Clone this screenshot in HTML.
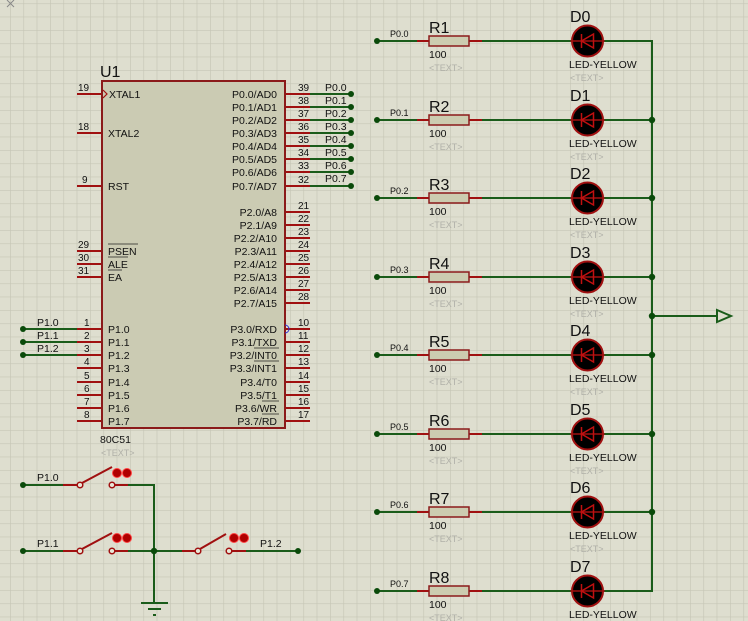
<!DOCTYPE html>
<html><head><meta charset="utf-8"><style>
html,body{margin:0;padding:0;background:#dedecf}
svg{display:block}
text{font-family:"Liberation Sans",sans-serif;fill:#111}
.s{font-size:10.5px}
.t{font-size:9px}
.t text, text.t{fill:#b0b0a8}
.n{font-size:10px}
.b{font-size:16px}
.pl{font-size:9px}
</style></head><body>
<svg width="748" height="621" viewBox="0 0 748 621" xmlns="http://www.w3.org/2000/svg">
<defs>
<pattern id="g" x="10" y="3.33" width="13.333" height="13.333" patternUnits="userSpaceOnUse">
<path d="M0 0H13.333M0 0V13.333" stroke="#c6c6b6" stroke-width="1.3" fill="none"/>
</pattern>
<g id="led">
<line x1="-17" y1="0" x2="17" y2="0" stroke="#a01010" stroke-width="2"/>
<circle cx="0" cy="0" r="15.5" fill="#000" stroke="#a01010" stroke-width="2"/>
<line x1="-17" y1="0" x2="17" y2="0" stroke="#a01010" stroke-width="1.5"/>
<line x1="-6" y1="-7" x2="-6" y2="7" stroke="#c01010" stroke-width="1.5"/>
<polygon points="-6,0 6,-7 6,7" fill="none" stroke="#c01010" stroke-width="1.5"/>
</g>
<g id="res">
<line x1="-12" y1="0" x2="53" y2="0" stroke="#a01010" stroke-width="2"/>
<rect x="0" y="-5" width="40" height="10" fill="#ccccb0" stroke="#8b1a1a" stroke-width="1.5"/>
</g>
<g id="btn">
<circle cx="0" cy="0" r="4.5" fill="#b00000" stroke="#ff4040" stroke-width="1"/>
<circle cx="10" cy="0" r="4.5" fill="#b00000" stroke="#ff4040" stroke-width="1"/>
</g>
</defs>
<rect width="748" height="621" fill="#dedecf"/>
<rect width="748" height="621" fill="url(#g)"/>
<path d="M7 0L14 7M14 0L7 7" stroke="#888" stroke-width="1"/>

<g stroke="#a01010" stroke-width="2">
<line x1="77" y1="94" x2="102" y2="94"/><line x1="77" y1="133" x2="102" y2="133"/><line x1="77" y1="186" x2="102" y2="186"/>
<line x1="77" y1="251" x2="102" y2="251"/><line x1="77" y1="264" x2="102" y2="264"/><line x1="77" y1="277" x2="102" y2="277"/>
<line x1="77" y1="329" x2="102" y2="329"/><line x1="77" y1="342" x2="102" y2="342"/><line x1="77" y1="355" x2="102" y2="355"/><line x1="77" y1="368" x2="102" y2="368"/>
<line x1="77" y1="382" x2="102" y2="382"/><line x1="77" y1="395" x2="102" y2="395"/><line x1="77" y1="408" x2="102" y2="408"/><line x1="77" y1="421" x2="102" y2="421"/>
<line x1="285" y1="94" x2="310" y2="94"/><line x1="285" y1="107" x2="310" y2="107"/><line x1="285" y1="120" x2="310" y2="120"/><line x1="285" y1="133" x2="310" y2="133"/>
<line x1="285" y1="146" x2="310" y2="146"/><line x1="285" y1="159" x2="310" y2="159"/><line x1="285" y1="172" x2="310" y2="172"/><line x1="285" y1="186" x2="310" y2="186"/>
<line x1="285" y1="212" x2="310" y2="212"/><line x1="285" y1="225" x2="310" y2="225"/><line x1="285" y1="238" x2="310" y2="238"/><line x1="285" y1="251" x2="310" y2="251"/>
<line x1="285" y1="264" x2="310" y2="264"/><line x1="285" y1="277" x2="310" y2="277"/><line x1="285" y1="290" x2="310" y2="290"/><line x1="285" y1="303" x2="310" y2="303"/>
<line x1="285" y1="329" x2="310" y2="329"/><line x1="285" y1="342" x2="310" y2="342"/><line x1="285" y1="355" x2="310" y2="355"/><line x1="285" y1="368" x2="310" y2="368"/>
<line x1="285" y1="382" x2="310" y2="382"/><line x1="285" y1="395" x2="310" y2="395"/><line x1="285" y1="408" x2="310" y2="408"/><line x1="285" y1="421" x2="310" y2="421"/>
</g>
<rect x="102" y="81" width="183" height="347" fill="#cbcbb3" stroke="#8b1a1a" stroke-width="2"/>
<text x="100" y="77" class="b">U1</text>
<text x="100" y="443" class="s">80C51</text>
<text x="101" y="456" class="t">&lt;TEXT&gt;</text>
<path d="M103 90L107 94L103 98" fill="none" stroke="#a01010" stroke-width="1.2"/>
<path d="M285 325A4 4 0 0 1 285 333" fill="none" stroke="#3030d0" stroke-width="1"/>
<g class="s">
<text x="109" y="98">XTAL1</text><text x="108" y="137">XTAL2</text><text x="108" y="190">RST</text>
<text x="108" y="255">PSEN</text><text x="108" y="268">ALE</text><text x="108" y="281">EA</text>
<text x="108" y="333">P1.0</text><text x="108" y="346">P1.1</text><text x="108" y="359">P1.2</text><text x="108" y="372">P1.3</text>
<text x="108" y="386">P1.4</text><text x="108" y="399">P1.5</text><text x="108" y="412">P1.6</text><text x="108" y="425">P1.7</text>
</g>
<g stroke="#222" stroke-width="0.8"><line x1="108" y1="244" x2="138" y2="244"/><line x1="108" y1="257" x2="128" y2="257"/><line x1="108" y1="270" x2="122" y2="270"/>
<line x1="254" y1="348" x2="279" y2="348"/><line x1="254" y1="361" x2="279" y2="361"/><line x1="262" y1="401" x2="279" y2="401"/><line x1="262" y1="414" x2="279" y2="414"/></g>
<g class="s" text-anchor="end">
<text x="277" y="98">P0.0/AD0</text><text x="277" y="111">P0.1/AD1</text><text x="277" y="124">P0.2/AD2</text><text x="277" y="137">P0.3/AD3</text>
<text x="277" y="150">P0.4/AD4</text><text x="277" y="163">P0.5/AD5</text><text x="277" y="176">P0.6/AD6</text><text x="277" y="190">P0.7/AD7</text>
<text x="277" y="216">P2.0/A8</text><text x="277" y="229">P2.1/A9</text><text x="277" y="242">P2.2/A10</text><text x="277" y="255">P2.3/A11</text>
<text x="277" y="268">P2.4/A12</text><text x="277" y="281">P2.5/A13</text><text x="277" y="294">P2.6/A14</text><text x="277" y="307">P2.7/A15</text>
<text x="277" y="333">P3.0/RXD</text><text x="277" y="346">P3.1/TXD</text><text x="277" y="359">P3.2/INT0</text><text x="277" y="372">P3.3/INT1</text>
<text x="277" y="386">P3.4/T0</text><text x="277" y="399">P3.5/T1</text><text x="277" y="412">P3.6/WR</text><text x="277" y="425">P3.7/RD</text>
</g>
<g class="n">
<text x="78" y="91">19</text><text x="78" y="130">18</text><text x="82" y="183">9</text><text x="78" y="248">29</text><text x="78" y="261">30</text><text x="78" y="274">31</text>
<text x="84" y="326">1</text><text x="84" y="339">2</text><text x="84" y="352">3</text><text x="84" y="365">4</text><text x="84" y="379">5</text><text x="84" y="392">6</text><text x="84" y="405">7</text><text x="84" y="418">8</text>
<text x="298" y="91">39</text><text x="298" y="104">38</text><text x="298" y="117">37</text><text x="298" y="130">36</text><text x="298" y="143">35</text><text x="298" y="156">34</text><text x="298" y="169">33</text><text x="298" y="183">32</text>
<text x="298" y="209">21</text><text x="298" y="222">22</text><text x="298" y="235">23</text><text x="298" y="248">24</text><text x="298" y="261">25</text><text x="298" y="274">26</text><text x="298" y="287">27</text><text x="298" y="300">28</text>
<text x="298" y="326">10</text><text x="298" y="339">11</text><text x="298" y="352">12</text><text x="298" y="365">13</text><text x="298" y="379">14</text><text x="298" y="392">15</text><text x="298" y="405">16</text><text x="298" y="418">17</text>
</g>
<g stroke="#1a5c1a" stroke-width="2">
<line x1="310" y1="94" x2="351" y2="94"/><line x1="310" y1="107" x2="351" y2="107"/><line x1="310" y1="120" x2="351" y2="120"/><line x1="310" y1="133" x2="351" y2="133"/>
<line x1="310" y1="146" x2="351" y2="146"/><line x1="310" y1="159" x2="351" y2="159"/><line x1="310" y1="172" x2="351" y2="172"/><line x1="310" y1="186" x2="351" y2="186"/>
<line x1="23" y1="329" x2="77" y2="329"/><line x1="23" y1="342" x2="77" y2="342"/><line x1="23" y1="355" x2="77" y2="355"/>
</g>
<g fill="#0a4a0a">
<circle cx="351" cy="94" r="3"/><circle cx="351" cy="107" r="3"/><circle cx="351" cy="120" r="3"/><circle cx="351" cy="133" r="3"/>
<circle cx="351" cy="146" r="3"/><circle cx="351" cy="159" r="3"/><circle cx="351" cy="172" r="3"/><circle cx="351" cy="186" r="3"/>
<circle cx="23" cy="329" r="3"/><circle cx="23" cy="342" r="3"/><circle cx="23" cy="355" r="3"/>
</g>
<g class="s">
<text x="325" y="91">P0.0</text><text x="325" y="104">P0.1</text><text x="325" y="117">P0.2</text><text x="325" y="130">P0.3</text>
<text x="325" y="143">P0.4</text><text x="325" y="156">P0.5</text><text x="325" y="169">P0.6</text><text x="325" y="182">P0.7</text>
<text x="37" y="326">P1.0</text><text x="37" y="339">P1.1</text><text x="37" y="352">P1.2</text>
</g>

<g stroke="#1a5c1a" stroke-width="2" fill="none">
<line x1="23" y1="485" x2="63" y2="485"/><path d="M128 485H154V603"/>
<line x1="23" y1="551" x2="63" y2="551"/><line x1="128" y1="551" x2="182" y2="551"/><line x1="246" y1="551" x2="298" y2="551"/>
<line x1="141" y1="603" x2="168" y2="603"/><line x1="148" y1="609" x2="161" y2="609"/><line x1="153" y1="615" x2="156" y2="615"/>
</g>
<g stroke="#a01010" stroke-width="2" fill="none">
<line x1="63" y1="485" x2="77" y2="485"/><line x1="115" y1="485" x2="128" y2="485"/><line x1="82" y1="483" x2="112" y2="467"/>
<line x1="63" y1="551" x2="77" y2="551"/><line x1="115" y1="551" x2="128" y2="551"/><line x1="82" y1="549" x2="112" y2="533"/>
<line x1="182" y1="551" x2="196" y2="551"/><line x1="232" y1="551" x2="246" y2="551"/><line x1="200" y1="549" x2="226" y2="534"/>
</g>
<g fill="#e8e8d8" stroke="#a01010" stroke-width="1.5">
<circle cx="80" cy="485" r="2.8"/><circle cx="112" cy="485" r="2.8"/><circle cx="80" cy="551" r="2.8"/><circle cx="112" cy="551" r="2.8"/>
<circle cx="198" cy="551" r="2.8"/><circle cx="229" cy="551" r="2.8"/>
</g>
<use href="#btn" x="117" y="473"/><use href="#btn" x="117" y="538"/><use href="#btn" x="234" y="538"/>
<g fill="#0a4a0a"><circle cx="23" cy="485" r="3"/><circle cx="23" cy="551" r="3"/><circle cx="154" cy="551" r="3.2"/><circle cx="298" cy="551" r="3"/></g>
<g class="s"><text x="37" y="481">P1.0</text><text x="37" y="547">P1.1</text><text x="260" y="547">P1.2</text></g>

<g stroke="#1a5c1a" stroke-width="2" fill="none">
<path d="M604 41H652V591H604"/>
<line x1="652" y1="316" x2="717" y2="316"/>
<polygon points="717,310 731,316 717,322"/>
<line x1="377" y1="41" x2="417" y2="41"/><line x1="482" y1="41" x2="571" y2="41"/>
<line x1="377" y1="120" x2="417" y2="120"/><line x1="482" y1="120" x2="571" y2="120"/><line x1="604" y1="120" x2="652" y2="120"/>
<line x1="377" y1="198" x2="417" y2="198"/><line x1="482" y1="198" x2="571" y2="198"/><line x1="604" y1="198" x2="652" y2="198"/>
<line x1="377" y1="277" x2="417" y2="277"/><line x1="482" y1="277" x2="571" y2="277"/><line x1="604" y1="277" x2="652" y2="277"/>
<line x1="377" y1="355" x2="417" y2="355"/><line x1="482" y1="355" x2="571" y2="355"/><line x1="604" y1="355" x2="652" y2="355"/>
<line x1="377" y1="434" x2="417" y2="434"/><line x1="482" y1="434" x2="571" y2="434"/><line x1="604" y1="434" x2="652" y2="434"/>
<line x1="377" y1="512" x2="417" y2="512"/><line x1="482" y1="512" x2="571" y2="512"/><line x1="604" y1="512" x2="652" y2="512"/>
<line x1="377" y1="591" x2="417" y2="591"/><line x1="482" y1="591" x2="571" y2="591"/>
</g>
<g fill="#0a4a0a">
<circle cx="377" cy="41" r="3"/><circle cx="377" cy="120" r="3"/><circle cx="377" cy="198" r="3"/><circle cx="377" cy="277" r="3"/>
<circle cx="377" cy="355" r="3"/><circle cx="377" cy="434" r="3"/><circle cx="377" cy="512" r="3"/><circle cx="377" cy="591" r="3"/>
<circle cx="652" cy="120" r="3.2"/><circle cx="652" cy="198" r="3.2"/><circle cx="652" cy="277" r="3.2"/><circle cx="652" cy="316" r="3.2"/>
<circle cx="652" cy="355" r="3.2"/><circle cx="652" cy="434" r="3.2"/><circle cx="652" cy="512" r="3.2"/>
</g>
<use href="#res" x="429" y="41"/><use href="#res" x="429" y="120"/><use href="#res" x="429" y="198"/><use href="#res" x="429" y="277"/>
<use href="#res" x="429" y="355"/><use href="#res" x="429" y="434"/><use href="#res" x="429" y="512"/><use href="#res" x="429" y="591"/>
<use href="#led" x="587.5" y="41"/><use href="#led" x="587.5" y="120"/><use href="#led" x="587.5" y="198"/><use href="#led" x="587.5" y="277"/>
<use href="#led" x="587.5" y="355"/><use href="#led" x="587.5" y="434"/><use href="#led" x="587.5" y="512"/><use href="#led" x="587.5" y="591"/>
<g class="pl">
<text x="390" y="37">P0.0</text><text x="390" y="116">P0.1</text><text x="390" y="194">P0.2</text><text x="390" y="273">P0.3</text>
<text x="390" y="351">P0.4</text><text x="390" y="430">P0.5</text><text x="390" y="508">P0.6</text><text x="390" y="587">P0.7</text>
</g>
<g class="b">
<text x="429" y="33">R1</text><text x="429" y="112">R2</text><text x="429" y="190">R3</text><text x="429" y="269">R4</text>
<text x="429" y="347">R5</text><text x="429" y="426">R6</text><text x="429" y="504">R7</text><text x="429" y="583">R8</text>
<text x="570" y="22">D0</text><text x="570" y="101">D1</text><text x="570" y="179">D2</text><text x="570" y="258">D3</text>
<text x="570" y="336">D4</text><text x="570" y="415">D5</text><text x="570" y="493">D6</text><text x="570" y="572">D7</text>
</g>
<g class="s">
<text x="429" y="58">100</text><text x="429" y="137">100</text><text x="429" y="215">100</text><text x="429" y="294">100</text>
<text x="429" y="372">100</text><text x="429" y="451">100</text><text x="429" y="529">100</text><text x="429" y="608">100</text>
<text x="569" y="68">LED-YELLOW</text><text x="569" y="147">LED-YELLOW</text><text x="569" y="225">LED-YELLOW</text><text x="569" y="304">LED-YELLOW</text>
<text x="569" y="382">LED-YELLOW</text><text x="569" y="461">LED-YELLOW</text><text x="569" y="539">LED-YELLOW</text><text x="569" y="618">LED-YELLOW</text>
</g>
<g class="t">
<text x="429" y="71">&lt;TEXT&gt;</text><text x="429" y="150">&lt;TEXT&gt;</text><text x="429" y="228">&lt;TEXT&gt;</text><text x="429" y="307">&lt;TEXT&gt;</text>
<text x="429" y="385">&lt;TEXT&gt;</text><text x="429" y="464">&lt;TEXT&gt;</text><text x="429" y="542">&lt;TEXT&gt;</text><text x="429" y="621">&lt;TEXT&gt;</text>
<text x="570" y="81">&lt;TEXT&gt;</text><text x="570" y="160">&lt;TEXT&gt;</text><text x="570" y="238">&lt;TEXT&gt;</text><text x="570" y="317">&lt;TEXT&gt;</text>
<text x="570" y="395">&lt;TEXT&gt;</text><text x="570" y="474">&lt;TEXT&gt;</text><text x="570" y="552">&lt;TEXT&gt;</text>
</g>
</svg>
</body></html>
